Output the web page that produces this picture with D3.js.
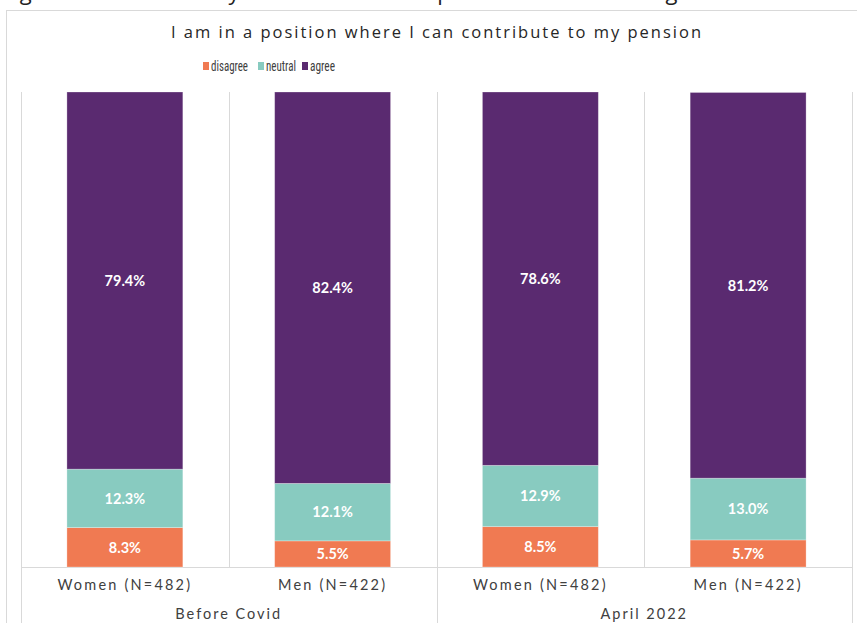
<!DOCTYPE html>
<html>
<head>
<meta charset="utf-8">
<script src="https://cdn.jsdelivr.net/npm/d3@7"></script>
<style>
  html, body { margin: 0; padding: 0; background: #fff; }
  svg { display: block; }
</style>
</head>
<body>
<svg id="chart" width="857" height="623"></svg>
<script>
// Survey answers, percent of respondents per group
const categories = ["Women (N=482)", "Men (N=422)", "Women (N=482)", "Men (N=422)"];
const periods = ["Before Covid", "Before Covid", "April 2022", "April 2022"];
const periodLabels = ["Before Covid", "April 2022"];
const seriesNames = ["disagree", "neutral", "agree"];
const disagree = [8.3, 5.5, 8.5, 5.7];
const neutral = [12.3, 12.1, 12.9, 13.0];
const agree = [79.4, 82.4, 78.6, 81.2];
const seriesColors = ["#F07A52", "#88CBC0", "#5A2A70"];

const W = 857, H = 623;
const plot = { left: 21, right: 852, top: 92, bottom: 567 };

const svg = d3.select("#chart");

// Figure caption running off the top edge
svg.append("text")
  .attr("x", 0).attr("y", 0)
  .attr("font-family", "Open Sans, sans-serif")
  .attr("font-size", 22)
  .attr("fill", "#222")
  .attr("textLength", 735).attr("lengthAdjust", "spacing")
  .text("Figure 14: The ability to contribute to pension across categories");

// Chart frame
svg.append("rect")
  .attr("x", 6.5).attr("y", 10.5)
  .attr("width", W + 20).attr("height", H + 20)
  .attr("fill", "#fff").attr("stroke", "#d9d9d9");

// Title
svg.append("text")
  .attr("x", 436).attr("y", 38)
  .attr("text-anchor", "middle")
  .attr("font-family", "Open Sans, sans-serif")
  .attr("font-size", 16.5)
  .attr("fill", "#262626")
  .attr("textLength", 530).attr("lengthAdjust", "spacing")
  .text("I am in a position where I can contribute to my pension");

// Legend
const legendItems = [
  { x: 203, tw: 37 }, { x: 258, tw: 30 }, { x: 302, tw: 25 }
];
const legend = svg.append("g")
  .attr("font-family", "Liberation Sans Narrow, Roboto Condensed, sans-serif")
  .attr("font-size", 15)
  .attr("fill", "#404040");
seriesNames.forEach((name, i) => {
  legend.append("rect")
    .attr("x", legendItems[i].x).attr("y", 62)
    .attr("width", 6).attr("height", 8)
    .attr("fill", seriesColors[i]);
  legend.append("text")
    .attr("x", legendItems[i].x + 8).attr("y", 71)
    .attr("textLength", legendItems[i].tw).attr("lengthAdjust", "spacingAndGlyphs")
    .text(name);
});

// Scales
const x = d3.scaleBand()
  .domain(d3.range(categories.length))
  .range([plot.left, plot.right])
  .padding(0);
const y = d3.scaleLinear().domain([0, 100]).range([plot.bottom, plot.top]);
const barW = x.bandwidth() * 0.558;

// Grid lines: cell separators and baseline
const grid = svg.append("g").attr("stroke", "#d9d9d9").attr("stroke-width", 1);
d3.range(categories.length + 1).forEach(i => {
  const xx = Math.round(plot.left + i * x.bandwidth()) + 0.5;
  const toBottom = (i % 2 === 0);
  grid.append("line")
    .attr("x1", xx).attr("x2", xx)
    .attr("y1", plot.top).attr("y2", toBottom ? H : plot.bottom);
});
grid.append("line")
  .attr("x1", plot.left).attr("x2", plot.right)
  .attr("y1", plot.bottom + 0.5).attr("y2", plot.bottom + 0.5);

// Stacked bars
const rows = categories.map((c, i) => ({ i, disagree: disagree[i], neutral: neutral[i], agree: agree[i] }));
const stacked = d3.stack().keys(seriesNames)(rows);

const barsG = svg.append("g");
stacked.forEach((layer, si) => {
  layer.forEach(d => {
    const i = d.data.i;
    const cx = x(i) + x.bandwidth() / 2;
    barsG.append("rect")
      .attr("x", cx - barW / 2)
      .attr("y", y(d[1]))
      .attr("width", barW)
      .attr("height", y(d[0]) - y(d[1]))
      .attr("fill", seriesColors[si])
      .attr("stroke", "rgba(255,255,255,0.35)")
      .attr("stroke-width", 0.8);
    barsG.append("text")
      .attr("x", cx)
      .attr("y", (y(d[0]) + y(d[1])) / 2)
      .attr("dy", "0.36em")
      .attr("text-anchor", "middle")
      .attr("font-family", "Lato, sans-serif")
      .attr("font-weight", "bold")
      .attr("font-size", 14.5)
      .attr("fill", "#fff")
      .text(d3.format(".1f")(d[1] - d[0]) + "%");
  });
});

// Category labels
const axisG = svg.append("g")
  .attr("font-family", "Lato, sans-serif")
  .attr("font-size", 14.5)
  .attr("fill", "#404040");
categories.forEach((c, i) => {
  axisG.append("text")
    .attr("x", x(i) + x.bandwidth() / 2)
    .attr("y", 590)
    .attr("text-anchor", "middle")
    .attr("letter-spacing", "2.2px")
    .text(c);
});
// Period labels
periodLabels.forEach((p, k) => {
  const cx = x(k * 2) + x.bandwidth();
  axisG.append("text")
    .attr("x", cx)
    .attr("y", 619)
    .attr("text-anchor", "middle")
    .attr("letter-spacing", "2px")
    .text(p);
});
</script>
</body>
</html>
